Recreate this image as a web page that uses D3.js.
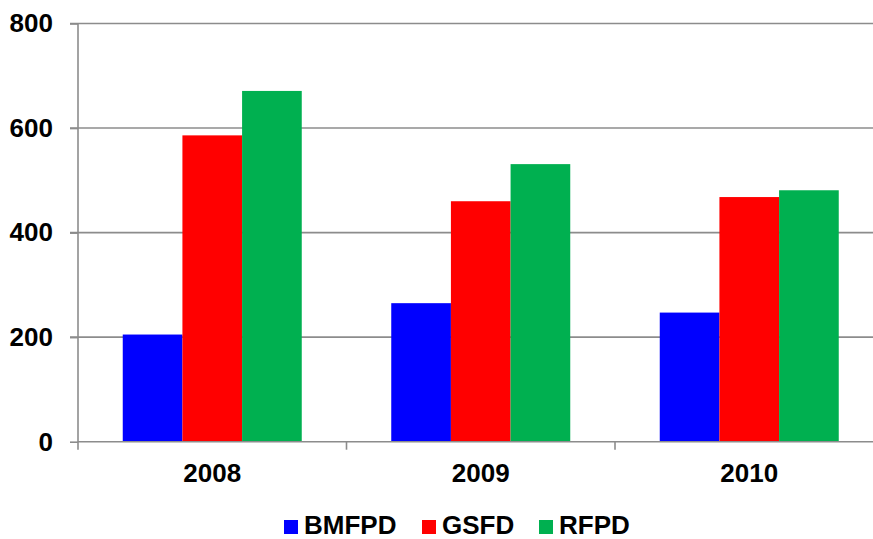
<!DOCTYPE html>
<html>
<head>
<meta charset="utf-8">
<script src="https://cdn.jsdelivr.net/npm/d3@7"></script>
<style>
  body { margin: 0; background: #fff; }
  text { font-family: "Liberation Sans", Arial, sans-serif; font-weight: bold; }
</style>
</head>
<body>
<div id="chart"></div>
<script>
// datos
var years = ["2008", "2009", "2010"],
    series = ["BMFPD", "GSFD", "RFPD"],
    colors = ["#0000ff", "#ff0000", "#00b050"],
    bmfpd = [205, 265, 247],
    gsfd = [586, 460, 468],
    rfpd = [671, 531, 481],
    yTicks = [0, 200, 400, 600, 800];

var values = [bmfpd, gsfd, rfpd];

var w = 873, h = 539,
    pLeft = 78, pRight = 883.5, pTop = 23.5, pBottom = 441.7,
    fontSize = "26px";

var svg = d3.select("#chart").append("svg")
    .attr("width", w)
    .attr("height", h)
    .style("background-color", "white");

var x0 = d3.scaleBand()
    .domain(years)
    .range([pLeft, pRight])
    .paddingInner(1/3)
    .paddingOuter(1/6);

var x1 = d3.scaleBand()
    .domain(series)
    .range([0, x0.bandwidth()]);

var y = d3.scaleLinear()
    .domain([0, 800])
    .range([pBottom, pTop]);

// lineas de cuadricula
svg.append("g")
    .selectAll("line")
    .data(yTicks.slice(1))
    .enter().append("line")
    .attr("x1", pLeft - 8)
    .attr("x2", w)
    .attr("y1", function (d) { return y(d); })
    .attr("y2", function (d) { return y(d); })
    .attr("stroke", "#8c8c8c")
    .attr("stroke-width", 1.6);

// barras
var g = svg.append("g");
years.forEach(function (yr, i) {
    series.forEach(function (s, j) {
        g.append("rect")
            .attr("x", x0(yr) + x1(s))
            .attr("y", y(values[j][i]))
            .attr("width", x1.bandwidth())
            .attr("height", y(0) - y(values[j][i]))
            .attr("fill", colors[j]);
    });
});

// eje Y
var yAxis = d3.axisLeft(y).tickValues(yTicks).tickSize(8).tickPadding(17);
svg.append("g")
    .attr("transform", "translate(" + pLeft + ",0)")
    .call(yAxis)
    .call(function (a) {
        a.select(".domain").attr("stroke", "#8c8c8c").attr("stroke-width", 1.6)
            .attr("d", "M0," + (pBottom + 8) + "V" + pTop);
        a.selectAll(".tick line").attr("stroke", "#8c8c8c").attr("stroke-width", 1.6);
        a.selectAll(".tick text")
            .attr("fill", "#000")
            .style("font-size", fontSize)
            .style("font-family", "'Liberation Sans', Arial, sans-serif")
            .style("font-weight", "bold");
    });

// eje X
var xAxis = d3.axisBottom(x0).tickSize(0).tickPadding(22);
svg.append("g")
    .attr("class", "axisX")
    .attr("transform", "translate(0," + pBottom + ")")
    .call(xAxis)
    .call(function (a) {
        a.select(".domain").attr("stroke", "#8c8c8c").attr("stroke-width", 1.6)
            .attr("d", "M" + pLeft + ",0H" + w);
        a.selectAll(".tick text")
            .attr("fill", "#000")
            .style("font-size", fontSize)
            .style("font-family", "'Liberation Sans', Arial, sans-serif")
            .style("font-weight", "bold");
    });

// marcas entre categorias
svg.append("g")
    .selectAll("line")
    .data(years.slice(1))
    .enter().append("line")
    .attr("x1", function (d) { return x0(d) - x0.step() * x0.paddingInner() / 2; })
    .attr("x2", function (d) { return x0(d) - x0.step() * x0.paddingInner() / 2; })
    .attr("y1", pBottom)
    .attr("y2", pBottom + 8)
    .attr("stroke", "#8c8c8c")
    .attr("stroke-width", 1.6);

// leyenda
var legX = [284, 422, 539];
var leg = svg.append("g");
series.forEach(function (s, j) {
    leg.append("rect")
        .attr("x", legX[j])
        .attr("y", 520)
        .attr("width", 14)
        .attr("height", 14)
        .attr("fill", colors[j]);
    leg.append("text")
        .attr("x", legX[j] + 20)
        .attr("y", 534)
        .style("font-size", fontSize)
        .text(s);
});
</script>
</body>
</html>
